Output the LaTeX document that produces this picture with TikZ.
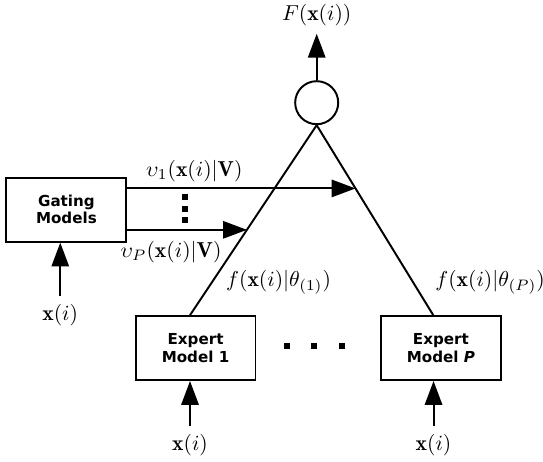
\documentclass[tikz,border=0pt]{standalone}
\usepackage{fontspec}
\newfontfamily\boxfont{DejaVu Sans}
\usetikzlibrary{arrows.meta,calc}

\begin{document}
\begin{tikzpicture}[line width=0.9pt,
  model/.style={draw,rectangle,minimum width=1.95cm,minimum height=1.04cm,align=center,
    font=\boxfont\bfseries\fontsize{7}{8}\selectfont},
  sumnode/.style={circle,draw,minimum size=0.70cm,inner sep=0pt},
  arr/.style={-{Triangle[length=11pt,width=8pt]}},
  sq/.style={fill=black}]
\useasboundingbox (0,0) rectangle (8.83,7.50);
% gating model, experts and output unit
\node[model] (gate) at (1.08,4.09) {Gating\\Models};
\node[model] (e1) at (3.18,1.84) {Expert\\Model 1};
\node[model] (eP) at (7.17,1.84) {Expert\\Model \textit{P}};
\node[sumnode] (sum) at (5.15,5.83) {};
\node (out) at (5.15,7.26) {$F(\mathbf{x}(i))$};
\draw[arr] (sum.north) -- (out.south);
% inputs
\node (xg) at (0.98,2.38) {$\mathbf{x}(i)$};
\node (x1) at (3.09,0.26) {$\mathbf{x}(i)$};
\node (xP) at (7.05,0.26) {$\mathbf{x}(i)$};
\draw[arr] (xg.north) -- (xg.north |- gate.south);
\draw[arr] (x1.north) -- (x1.north |- e1.south);
\draw[arr] (xP.north) -- (xP.north |- eP.south);
% expert outputs into the unit
\coordinate (t1) at ([xshift=-0.09cm]e1.north);
\coordinate (tP) at ([xshift=-0.125cm]eP.north);
\draw (t1) -- (sum.south) -- (tP);
\node at (4.53,2.91) (f1) {$f(\mathbf{x}(i)|\theta_{(1)})$};
\node at (7.97,2.91) (fP) {$f(\mathbf{x}(i)|\theta_{(P)})$};
% gate weights
\coordinate (tipU) at ($(sum.south)!0.333!(tP)$);
\coordinate (tipL) at ($(sum.south)!0.551!(t1)$);
\draw[arr] (gate.east |- tipU) -- (tipU);
\draw[arr] (gate.east |- tipL) -- (tipL);
\node (v1) at (3.16,4.72) {$\upsilon_1(\mathbf{x}(i)|\mathbf{V})$};
\node (vP) at (2.78,3.40) {$\upsilon_P(\mathbf{x}(i)|\mathbf{V})$};
% dots
\foreach \y in {4.295,4.10,3.92} \fill[sq] (3.01,\y) ++(-0.045,-0.045) rectangle ++(0.09,0.09);
\foreach \x in {4.67,5.11,5.56} \fill[sq] (\x,1.87) ++(-0.045,-0.045) rectangle ++(0.09,0.09);
\end{tikzpicture}
\end{document}
